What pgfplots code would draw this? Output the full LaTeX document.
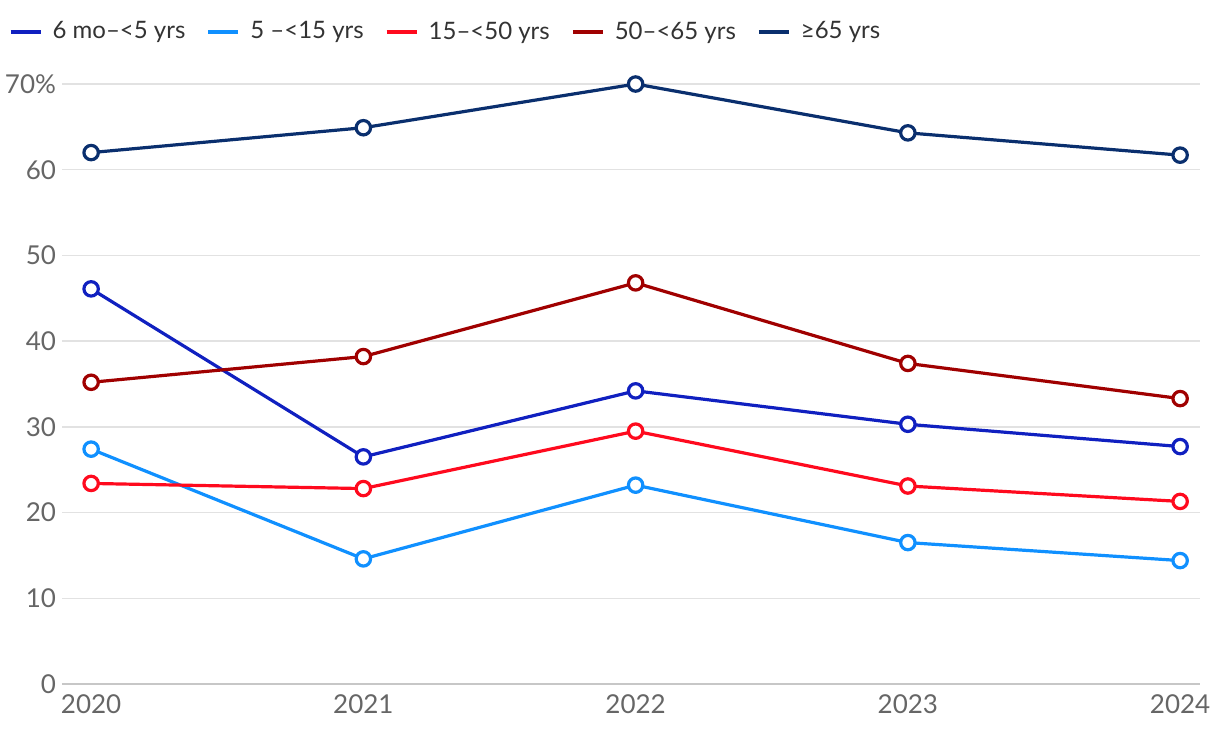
\documentclass[border=0pt]{standalone}
\usepackage{pgfplots}
\pgfplotsset{compat=1.18}
\usepackage{fontspec}
\setmainfont{Lato}
\definecolor{cA}{HTML}{1020C0}
\definecolor{cB}{HTML}{1090FF}
\definecolor{cC}{HTML}{FF0A1E}
\definecolor{cD}{HTML}{A00000}
\definecolor{cE}{HTML}{0A2F6E}
\definecolor{tickgray}{HTML}{666666}
\definecolor{gridgray}{HTML}{E2E2E2}
\begin{document}
\begin{tikzpicture}
\useasboundingbox (-31pt,-27pt) rectangle (579pt,342pt);
\begin{axis}[
  at={(0,0)}, anchor=south west,
  scale only axis, width=569pt, height=300pt,
  xmin=2019.893, xmax=2024.073,
  ymin=0, ymax=70,
  axis line style={draw=none},
  ytick={0,10,20,30,40,50,60,70},
  yticklabels={0,10,20,30,40,50,60,70\%},
  xtick={2020,2021,2022,2023,2024},
  xticklabels={2020,2021,2022,2023,2024},
  major tick length=0pt,
  ymajorgrids, grid style={gridgray, line width=0.75pt},
  tick label style={font=\fontsize{13}{15}\selectfont, text=tickgray},
  yticklabel style={xshift=0.5pt},
  xticklabel style={yshift=-2pt},
  /pgf/number format/assume math mode=true,
  clip=false,
  every axis plot/.append style={line width=1.6pt, mark=*, mark size=3.6pt,
     mark options={fill=white, line width=1.6pt}},
  legend style={at={(-0.0525,1.087)}, anchor=west, draw=none, fill=none,
    font=\fontsize{12}{14}\selectfont, text=black!80,
    /tikz/every odd column/.append style={column sep=3pt},
    /tikz/every even column/.append style={column sep=8.5pt}},
  legend columns=-1,
  legend image code/.code={\draw[line width=2pt] (0pt,0pt) -- (15pt,0pt);},
]
\draw[black!22, line width=0.75pt] (axis cs:2019.893,0) -- (axis cs:2024.073,0);
\addplot[cA] coordinates {(2020,46.1) (2021,26.5) (2022,34.2) (2023,30.3) (2024,27.7)};
\addlegendentry{6 mo–<5 yrs}
\addplot[cB] coordinates {(2020,27.4) (2021,14.6) (2022,23.2) (2023,16.5) (2024,14.4)};
\addlegendentry{5 –<15 yrs}
\addplot[cC] coordinates {(2020,23.4) (2021,22.8) (2022,29.5) (2023,23.1) (2024,21.3)};
\addlegendentry{15–<50 yrs}
\addplot[cD] coordinates {(2020,35.2) (2021,38.2) (2022,46.8) (2023,37.4) (2024,33.3)};
\addlegendentry{50–<65 yrs}
\addplot[cE] coordinates {(2020,62.0) (2021,64.9) (2022,70.0) (2023,64.3) (2024,61.7)};
\addlegendentry{≥65 yrs}
\end{axis}
\end{tikzpicture}
\end{document}
